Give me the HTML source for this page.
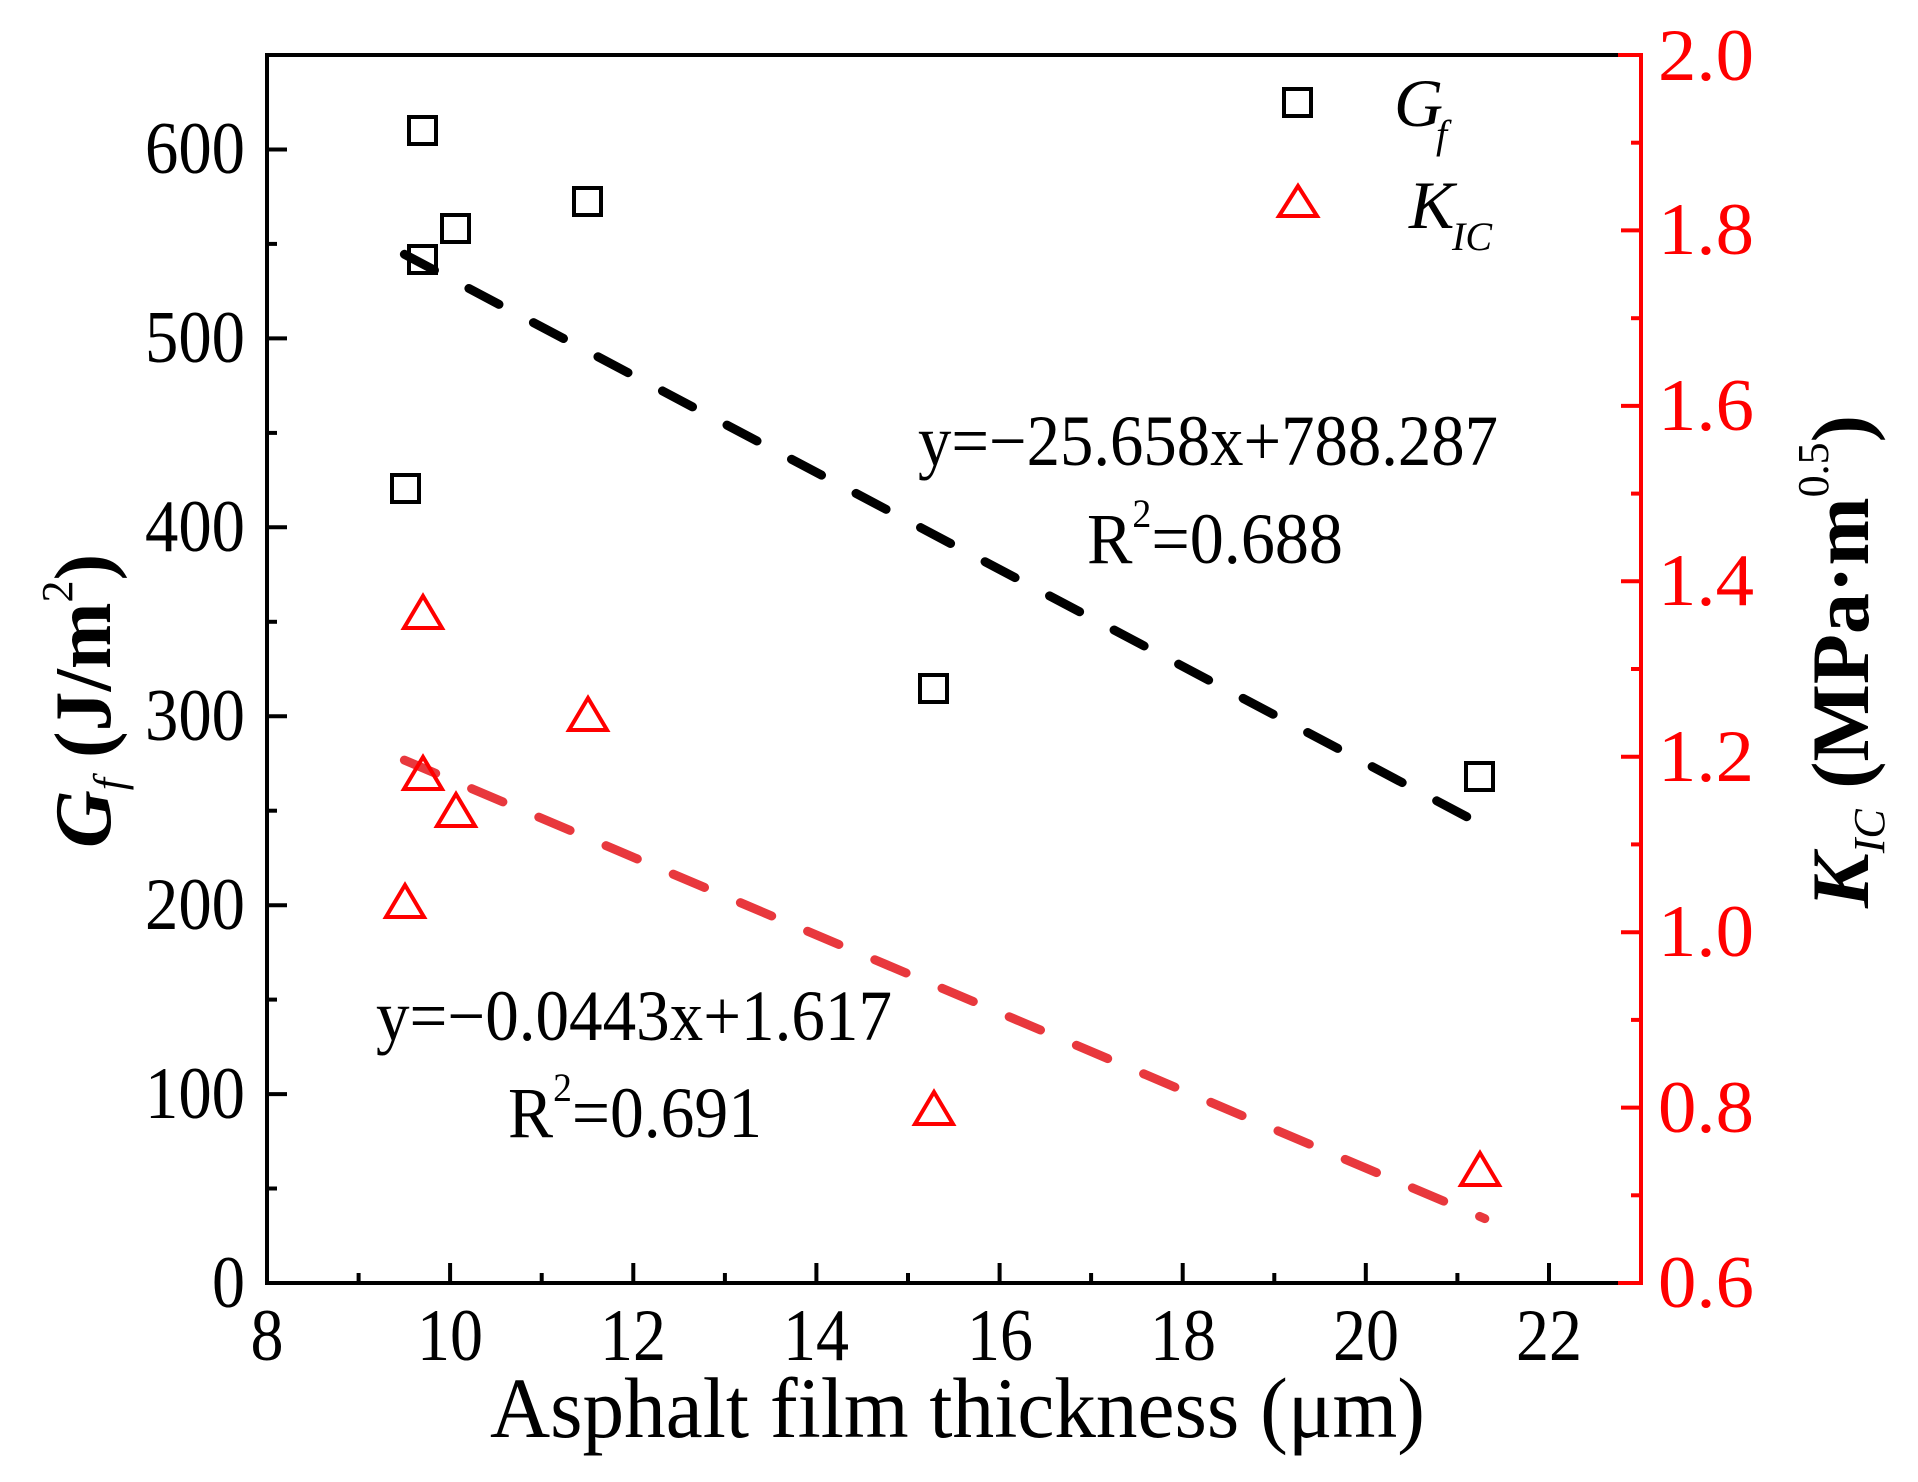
<!DOCTYPE html>
<html><head><meta charset="utf-8"><style>html,body{margin:0;padding:0;background:#fff}svg{display:block}</style></head>
<body>
<svg width="1918" height="1482" viewBox="0 0 1918 1482" xmlns="http://www.w3.org/2000/svg" font-family="'Liberation Serif', serif">
<rect width="1918" height="1482" fill="#fff"/>
<g stroke-linecap="square">
<line x1="267" y1="55" x2="1620" y2="55" stroke="#000" stroke-width="4"/>
<line x1="267" y1="1283" x2="1620" y2="1283" stroke="#000" stroke-width="4"/>
<line x1="267" y1="55" x2="267" y2="1283" stroke="#000" stroke-width="4"/>
<line x1="1620" y1="55" x2="1641" y2="55" stroke="#f00" stroke-width="4"/>
<line x1="1620" y1="1283" x2="1641" y2="1283" stroke="#f00" stroke-width="4"/>
<line x1="1641" y1="55" x2="1641" y2="1283" stroke="#f00" stroke-width="4"/>
</g>
<g stroke="#000" stroke-width="4">
<line x1="450.1" y1="1283" x2="450.1" y2="1263"/><line x1="633.3" y1="1283" x2="633.3" y2="1263"/><line x1="816.4" y1="1283" x2="816.4" y2="1263"/><line x1="999.6" y1="1283" x2="999.6" y2="1263"/><line x1="1182.7" y1="1283" x2="1182.7" y2="1263"/><line x1="1365.8" y1="1283" x2="1365.8" y2="1263"/><line x1="1549" y1="1283" x2="1549" y2="1263"/>
<line x1="358.6" y1="1283" x2="358.6" y2="1273"/><line x1="541.7" y1="1283" x2="541.7" y2="1273"/><line x1="724.9" y1="1283" x2="724.9" y2="1273"/><line x1="908" y1="1283" x2="908" y2="1273"/><line x1="1091.1" y1="1283" x2="1091.1" y2="1273"/><line x1="1274.3" y1="1283" x2="1274.3" y2="1273"/><line x1="1457.4" y1="1283" x2="1457.4" y2="1273"/>
<line x1="267" y1="1094.1" x2="287" y2="1094.1"/><line x1="267" y1="905.2" x2="287" y2="905.2"/><line x1="267" y1="716.2" x2="287" y2="716.2"/><line x1="267" y1="527.3" x2="287" y2="527.3"/><line x1="267" y1="338.4" x2="287" y2="338.4"/><line x1="267" y1="149.5" x2="287" y2="149.5"/>
<line x1="267" y1="1188.5" x2="277" y2="1188.5"/><line x1="267" y1="999.6" x2="277" y2="999.6"/><line x1="267" y1="810.7" x2="277" y2="810.7"/><line x1="267" y1="621.8" x2="277" y2="621.8"/><line x1="267" y1="432.9" x2="277" y2="432.9"/><line x1="267" y1="243.9" x2="277" y2="243.9"/>
</g>
<g stroke="#f00" stroke-width="4">
<line x1="1641" y1="1107.6" x2="1621" y2="1107.6"/><line x1="1641" y1="932.2" x2="1621" y2="932.2"/><line x1="1641" y1="756.7" x2="1621" y2="756.7"/><line x1="1641" y1="581.3" x2="1621" y2="581.3"/><line x1="1641" y1="405.9" x2="1621" y2="405.9"/><line x1="1641" y1="230.4" x2="1621" y2="230.4"/>
<line x1="1641" y1="1195.3" x2="1631" y2="1195.3"/><line x1="1641" y1="1019.9" x2="1631" y2="1019.9"/><line x1="1641" y1="844.4" x2="1631" y2="844.4"/><line x1="1641" y1="669" x2="1631" y2="669"/><line x1="1641" y1="493.6" x2="1631" y2="493.6"/><line x1="1641" y1="318.2" x2="1631" y2="318.2"/><line x1="1641" y1="142.7" x2="1631" y2="142.7"/>
</g>
<g font-size="74" fill="#000" text-anchor="middle">
<text x="267" y="1360" textLength="33" lengthAdjust="spacingAndGlyphs">8</text>
<text x="450" y="1360" textLength="66" lengthAdjust="spacingAndGlyphs">10</text>
<text x="633" y="1360" textLength="66" lengthAdjust="spacingAndGlyphs">12</text>
<text x="816" y="1360" textLength="66" lengthAdjust="spacingAndGlyphs">14</text>
<text x="1000" y="1360" textLength="66" lengthAdjust="spacingAndGlyphs">16</text>
<text x="1183" y="1360" textLength="66" lengthAdjust="spacingAndGlyphs">18</text>
<text x="1366" y="1360" textLength="66" lengthAdjust="spacingAndGlyphs">20</text>
<text x="1549" y="1360" textLength="66" lengthAdjust="spacingAndGlyphs">22</text>
</g>
<g font-size="74" fill="#000" text-anchor="end">
<text x="245" y="1307" textLength="33" lengthAdjust="spacingAndGlyphs">0</text>
<text x="245" y="1118" textLength="100" lengthAdjust="spacingAndGlyphs">100</text>
<text x="245" y="929" textLength="100" lengthAdjust="spacingAndGlyphs">200</text>
<text x="245" y="740" textLength="100" lengthAdjust="spacingAndGlyphs">300</text>
<text x="245" y="551" textLength="100" lengthAdjust="spacingAndGlyphs">400</text>
<text x="245" y="362" textLength="100" lengthAdjust="spacingAndGlyphs">500</text>
<text x="245" y="173" textLength="100" lengthAdjust="spacingAndGlyphs">600</text>
</g>
<g font-size="74" fill="#f00">
<text x="1658" y="1307" textLength="96" lengthAdjust="spacingAndGlyphs">0.6</text>
<text x="1658" y="1132" textLength="96" lengthAdjust="spacingAndGlyphs">0.8</text>
<text x="1658" y="956" textLength="96" lengthAdjust="spacingAndGlyphs">1.0</text>
<text x="1658" y="781" textLength="96" lengthAdjust="spacingAndGlyphs">1.2</text>
<text x="1658" y="605" textLength="96" lengthAdjust="spacingAndGlyphs">1.4</text>
<text x="1658" y="430" textLength="96" lengthAdjust="spacingAndGlyphs">1.6</text>
<text x="1658" y="254" textLength="96" lengthAdjust="spacingAndGlyphs">1.8</text>
<text x="1658" y="80" textLength="96" lengthAdjust="spacingAndGlyphs">2.0</text>
</g>
<text x="490" y="1437" font-size="86" fill="#000" textLength="935" lengthAdjust="spacingAndGlyphs">Asphalt film thickness (μm)</text>
<g transform="translate(110,848) rotate(-90)" fill="#000" font-weight="bold" font-size="80">
<text x="0" y="0"><tspan font-style="italic">G</tspan><tspan font-size="44" dy="14" font-style="italic" font-weight="normal">f</tspan><tspan dy="-14"> (J/m</tspan><tspan font-size="44" dy="-38" font-weight="normal">2</tspan><tspan dy="38">)</tspan></text>
</g>
<g transform="translate(1868,908) rotate(-90)" fill="#000" font-weight="bold" font-size="82">
<text x="0" y="0"><tspan font-style="italic">K</tspan><tspan font-size="44" dy="16" font-style="italic" font-weight="normal">IC</tspan><tspan dy="-16"> (MPa·m</tspan><tspan font-size="44" dy="-40" font-weight="normal">0.5</tspan><tspan dy="40">)</tspan></text>
</g>
<line x1="404.4" y1="254.3" x2="1488" y2="828" stroke="#000" stroke-width="9" stroke-linecap="round" stroke-dasharray="34 39"/>
<line x1="404.4" y1="760.1" x2="1484.8" y2="1218.6" stroke="#e8383d" stroke-width="9" stroke-linecap="round" stroke-dasharray="34 39"/>
<g fill="none" stroke="#000" stroke-width="4">
<rect x="409" y="117" width="27" height="27"/>
<rect x="409" y="246" width="27" height="27"/>
<rect x="442" y="215" width="27" height="27"/>
<rect x="574" y="188" width="27" height="27"/>
<rect x="392" y="475" width="27" height="27"/>
<rect x="920" y="675" width="27" height="27"/>
<rect x="1466" y="763" width="27" height="27"/>
<rect x="1284" y="89" width="27" height="27"/>
</g>
<g fill="none" stroke="#f00" stroke-width="4" stroke-linejoin="miter">
<polygon points="423,596 404,628 442,628"/>
<polygon points="588,698 569,730 607,730"/>
<polygon points="423,757 404,789 442,789"/>
<polygon points="456,794 437,826 475,826"/>
<polygon points="405,885 386,917 424,917"/>
<polygon points="934,1092 915,1124 953,1124"/>
<polygon points="1480,1153 1461,1185 1499,1185"/>
<polygon points="1298,186 1279,216 1317,216"/>
</g>
<text x="1394" y="126" font-size="68" font-style="italic" fill="#000">G</text>
<text x="1436" y="148" font-size="40" font-style="italic" fill="#000">f</text>
<text x="1409" y="228" font-size="68" font-style="italic" fill="#000">K</text>
<text x="1452" y="250" font-size="40" font-style="italic" fill="#000">IC</text>
<g font-size="72" fill="#000">
<text x="918" y="465" textLength="580" lengthAdjust="spacingAndGlyphs">y=−25.658x+788.287</text>
<text x="1087" y="563" textLength="256" lengthAdjust="spacingAndGlyphs"><tspan>R</tspan><tspan font-size="40" dy="-36">2</tspan><tspan dy="36">=0.688</tspan></text>
<text x="376" y="1040" textLength="516" lengthAdjust="spacingAndGlyphs">y=−0.0443x+1.617</text>
<text x="508" y="1137" textLength="254" lengthAdjust="spacingAndGlyphs"><tspan>R</tspan><tspan font-size="40" dy="-36">2</tspan><tspan dy="36">=0.691</tspan></text>
</g>
</svg>
</body></html>
